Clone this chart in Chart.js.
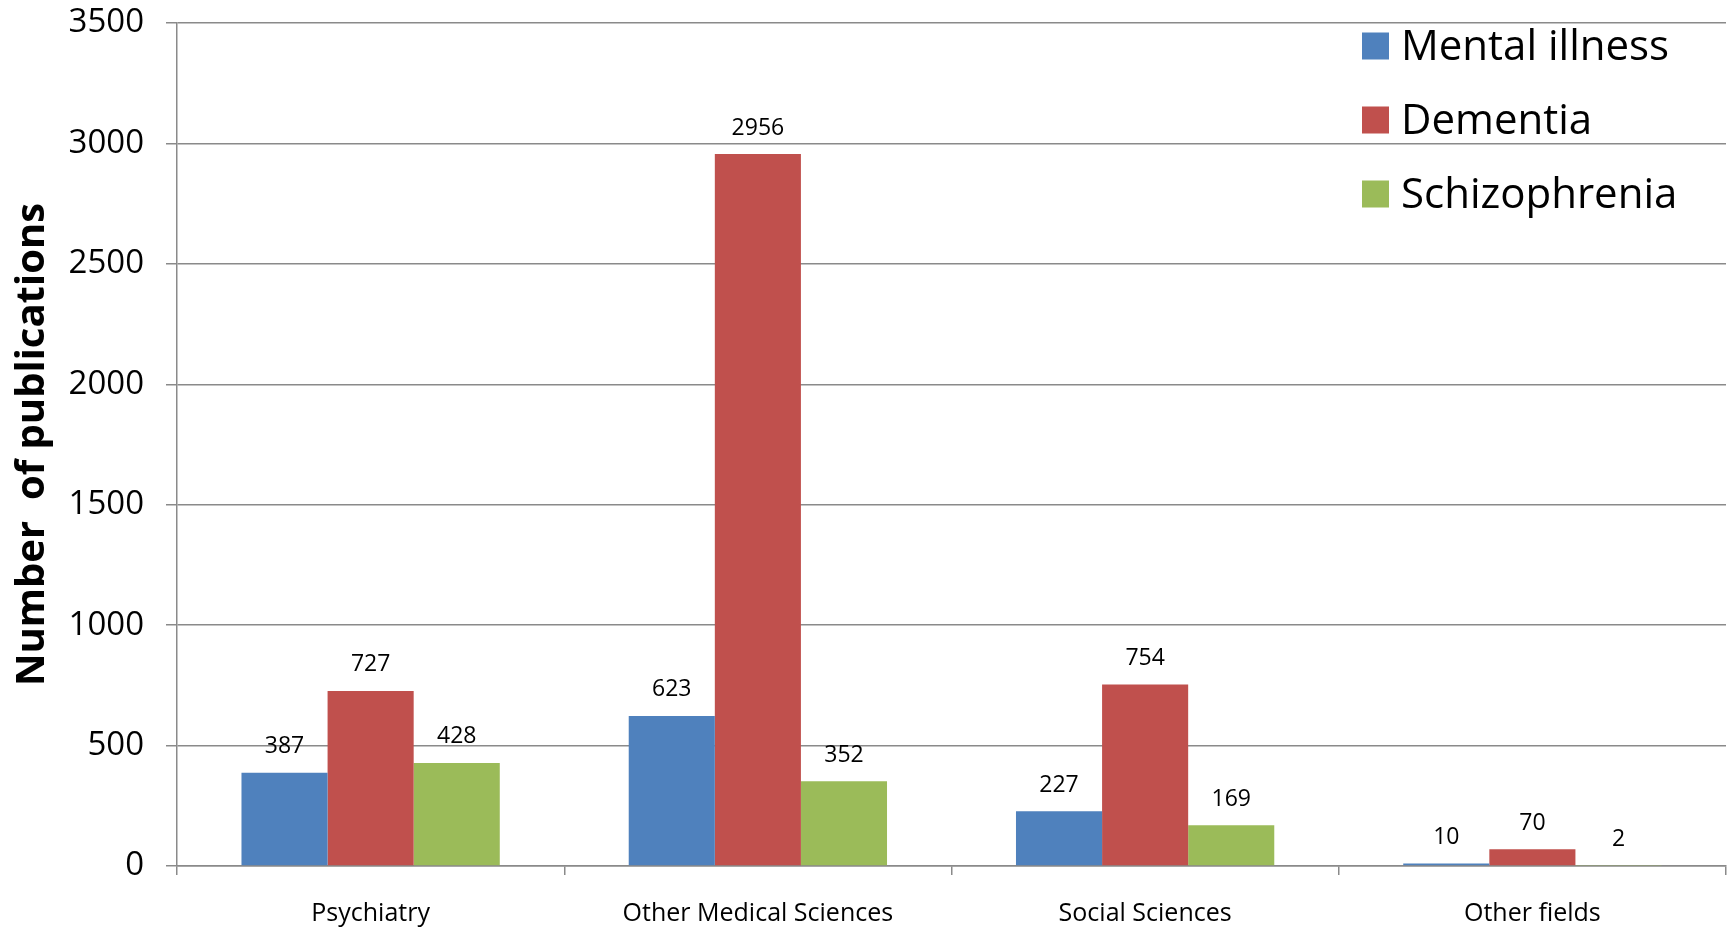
<!DOCTYPE html>
<html>
<head>
<meta charset="utf-8">
<title>Number of publications by field</title>
<script src="https://cdn.jsdelivr.net/npm/chart.js@4/dist/chart.umd.min.js"></script>
<style>
  html, body { margin: 0; padding: 0; background: #ffffff; }
  canvas { display: block; }
</style>
</head>
<body>
<canvas id="chart" width="1735" height="929"></canvas>
<script>
// Fields of research (x categories)
const categories = ["Psychiatry", "Other Medical Sciences", "Social Sciences", "Other fields"];

// Publication counts per field
const mentalIllness = [387, 623, 227, 10];
const dementia = [727, 2956, 754, 70];
const schizophrenia = [428, 352, 169, 2];

// Series names
const seriesNames = ["Mental illness", "Dementia", "Schizophrenia"];

// Y axis range and step
const yMin = 0;
const yMax = 3500;
const yStep = 500;

const colors = ["#4F81BD", "#C0504D", "#9BBB59"];
const gridColor = "#8a8a8a";
const fontFamily = "'Open Sans', 'Noto Sans', sans-serif";

// Value labels drawn above each bar
const valueLabels = {
  id: "valueLabels",
  afterDatasetsDraw(chart) {
    const ctx = chart.ctx;
    ctx.save();
    ctx.font = "23px " + fontFamily;
    ctx.fillStyle = "#000000";
    ctx.textAlign = "center";
    ctx.textBaseline = "middle";
    chart.data.datasets.forEach((ds, i) => {
      const meta = chart.getDatasetMeta(i);
      meta.data.forEach((bar, j) => {
        ctx.fillText(String(ds.data[j]), bar.x, bar.y - 26);
      });
    });
    ctx.restore();
  }
};

// Legend placed inside the plot, top-right corner
const insideLegend = {
  id: "insideLegend",
  afterDraw(chart) {
    const ctx = chart.ctx;
    const area = chart.chartArea;
    const boxX = area.right - 364;
    const boxSize = 27;
    const firstRowY = area.top + 23;
    const rowGap = 74;
    ctx.save();
    ctx.font = "42px " + fontFamily;
    ctx.textAlign = "left";
    ctx.textBaseline = "middle";
    chart.data.datasets.forEach((ds, i) => {
      const cy = firstRowY + i * rowGap;
      ctx.fillStyle = ds.backgroundColor;
      ctx.fillRect(boxX, cy - boxSize / 2, boxSize, boxSize);
      ctx.fillStyle = "#000000";
      ctx.fillText(ds.label, boxX + 39, cy + 2);
    });
    ctx.restore();
  }
};

new Chart(document.getElementById("chart"), {
  type: "bar",
  data: {
    labels: categories,
    datasets: [
      { label: seriesNames[0], data: mentalIllness, backgroundColor: colors[0] },
      { label: seriesNames[1], data: dementia, backgroundColor: colors[1] },
      { label: seriesNames[2], data: schizophrenia, backgroundColor: colors[2] }
    ]
  },
  options: {
    responsive: false,
    devicePixelRatio: 1,
    animation: false,
    datasets: {
      bar: { categoryPercentage: 0.667, barPercentage: 1.0, borderWidth: 0 }
    },
    layout: { padding: { top: 23, right: 9, left: 0, bottom: 0 } },
    plugins: {
      legend: { display: false },
      tooltip: { enabled: false }
    },
    scales: {
      x: {
        offset: true,
        grid: {
          offset: true,
          drawOnChartArea: false,
          drawTicks: true,
          tickLength: 9,
          color: gridColor,
          lineWidth: 1.5
        },
        border: { display: true, color: gridColor, width: 1.5 },
        ticks: {
          color: "#000000",
          font: { family: fontFamily, size: 25 },
          padding: 24,
          maxRotation: 0,
          autoSkip: false
        },
        afterFit(scale) { scale.height = 63; }
      },
      y: {
        min: yMin,
        max: yMax,
        grid: {
          color: gridColor,
          lineWidth: 1.5,
          drawTicks: true,
          tickLength: 11
        },
        border: { display: true, color: gridColor, width: 1.5 },
        ticks: {
          stepSize: yStep,
          color: "#000000",
          font: { family: fontFamily, size: 33 },
          padding: 22,
          callback: (v) => String(v)
        },
        title: {
          display: true,
          text: "Number  of publications",
          color: "#000000",
          font: { family: fontFamily, size: 40, weight: "bold" },
          padding: { top: 9, bottom: 0 }
        },
        afterFit(scale) {
          scale.width = 177;
          scale.paddingTop = 0;
          scale.paddingBottom = 0;
        }
      }
    }
  },
  plugins: [valueLabels, insideLegend]
});
</script>
</body>
</html>
